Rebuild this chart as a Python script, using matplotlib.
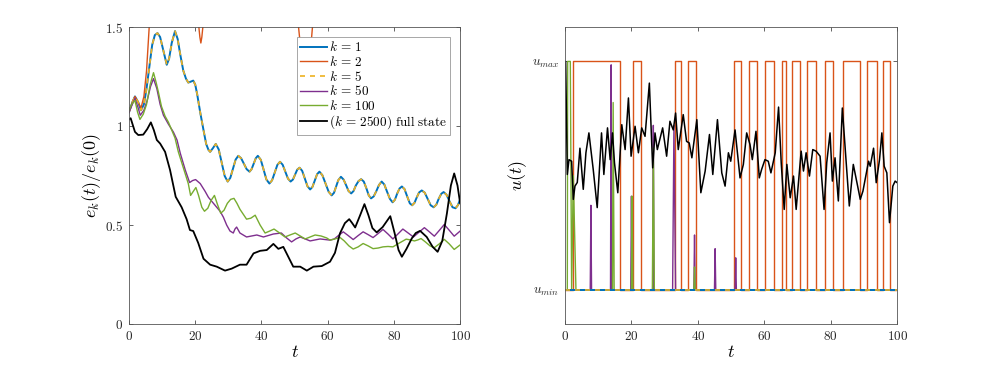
import matplotlib
matplotlib.use("Agg")
import matplotlib.pyplot as plt
from matplotlib.ticker import FuncFormatter

plt.rcParams.update({
    "font.family": "DejaVu Serif",
    "mathtext.fontset": "cm",
    "font.size": 9,
    "axes.linewidth": 0.6,
    "xtick.direction": "in",
    "ytick.direction": "in",
    "xtick.top": True,
    "ytick.right": True,
    "xtick.major.size": 3,
    "ytick.major.size": 3,
    "xtick.major.width": 0.5,
    "ytick.major.width": 0.5,
})

# MATLAB default colours
C_BLUE = "#0072BD"
C_ORANGE = "#D95319"
C_YELLOW = "#EDB120"
C_PURPLE = "#7E2F8E"
C_GREEN = "#77AC30"

# ---------------- left panel: e_k(t)/e_k(0) ----------------
# k = 1 and k = 5 coincide
t_k1 = [0, 1, 1.8, 2.8, 3.6, 4.5, 5.3, 6.3, 7.0, 7.8, 8.6, 9.4, 10.4, 11.4,
        12.1, 12.9, 13.9, 14.7, 15.5, 16.4, 17.2, 17.9, 18.7, 19.4, 20.0, 20.6,
        21.5, 22.5, 23.3, 24.0, 24.5, 25.4, 26.2, 27.1, 28.0, 28.9, 29.8, 30.6,
        31.4, 32.2, 33.0, 33.85, 34.7, 35.55, 36.4, 37.0, 37.65, 38.3, 38.9,
        39.8, 40.65, 41.5, 42.4, 43.2, 44.0, 44.8, 45.6, 46.4, 47.2, 48.0, 48.8,
        49.5, 50.15, 50.8, 51.5, 52.3, 53.1, 53.9, 54.7, 55.4, 56.1, 56.8, 57.5,
        58.4, 59.35, 60.3, 61.2, 61.9, 62.55, 63.2, 64.0, 64.8, 65.6, 66.3,
        67.1, 67.8, 68.5, 69.3, 70.1, 70.9, 71.7, 72.4, 73.1, 73.9, 74.7, 75.5,
        76.3, 77.1, 77.9, 78.8, 79.6, 80.3, 81.0, 81.7, 82.4, 83.2, 84.0, 84.8,
        85.5, 86.2, 86.9, 87.6, 88.4, 89.3, 90.2, 91.1, 92.0, 92.8, 93.5, 94.3,
        95.0, 95.9, 96.8, 97.7, 98.6, 99.3, 100]
e_k1 = [1.07, 1.12, 1.15, 1.12, 1.08, 1.11, 1.19, 1.32, 1.41, 1.46, 1.47, 1.45,
        1.38, 1.31, 1.34, 1.42, 1.48, 1.44, 1.36, 1.28, 1.24, 1.22, 1.225, 1.23,
        1.21, 1.16, 1.07, 0.98, 0.91, 0.88, 0.87, 0.89, 0.91, 0.882, 0.815,
        0.748, 0.72, 0.739, 0.785, 0.831, 0.85, 0.838, 0.81, 0.782, 0.77, 0.782,
        0.81, 0.838, 0.85, 0.83, 0.78, 0.73, 0.71, 0.726, 0.765, 0.804, 0.82,
        0.805, 0.77, 0.735, 0.72, 0.73, 0.755, 0.78, 0.79, 0.774, 0.735, 0.696,
        0.68, 0.693, 0.725, 0.757, 0.77, 0.752, 0.71, 0.668, 0.65, 0.663, 0.695,
        0.727, 0.744, 0.73, 0.70, 0.672, 0.66, 0.672, 0.70, 0.722, 0.732, 0.72,
        0.685, 0.65, 0.635, 0.645, 0.672, 0.703, 0.72, 0.705, 0.67, 0.632,
        0.615, 0.628, 0.66, 0.685, 0.695, 0.682, 0.645, 0.61, 0.60, 0.612, 0.64,
        0.665, 0.675, 0.664, 0.632, 0.60, 0.59, 0.603, 0.632, 0.658, 0.667,
        0.653, 0.62, 0.59, 0.585, 0.60, 0.63]

t_k2 = [0, 1, 1.8, 2.8, 3.6, 4.5, 5.3, 6.1, 8, 12, 16, 19, 20.5, 21.1, 21.4,
        21.7, 22.0, 22.3, 22.8, 25, 35, 45, 50.6, 51.2, 51.8, 52.4, 53.0, 53.8,
        54.5, 55.0, 55.4, 56.0, 60, 80, 100]
e_k2 = [1.07, 1.12, 1.15, 1.12, 1.09, 1.15, 1.28, 1.50, 1.80, 1.90, 1.85, 1.70,
        1.56, 1.50, 1.45, 1.42, 1.45, 1.50, 1.58, 1.80, 1.90, 1.80, 1.62, 1.50,
        1.40, 1.33, 1.31, 1.31, 1.34, 1.42, 1.50, 1.62, 1.85, 1.90, 1.90]

t_k50 = [0, 1, 1.8, 2.8, 3.4, 4.5, 5.5, 6.5, 7.4, 8.4, 9.4, 10.4, 11.9, 13.4,
         14.5, 15.5, 17.0, 18.3, 19.2, 20.1, 21.5, 23.0, 24.0, 25.5, 26.5,
         27.5, 28.5, 29.5, 30.5, 31.5, 32.0, 32.5, 33.0, 33.5, 35.5, 38.6, 40.6,
         43.6, 46.0, 47.6, 49.1, 50.4, 51.7, 53.2, 54.7, 56.2, 57.7, 60.7, 62.0,
         63.3, 64.7, 66.2, 67.7, 69.2, 70.7, 72.2, 73.7, 75.2, 76.7, 78.2, 79.7,
         81.2, 82.7, 84.3, 85.9, 87.5, 89.2, 90.7, 92.2, 93.7, 95.2, 96.7, 98.2,
         100]
e_k50 = [1.07, 1.11, 1.14, 1.09, 1.055, 1.08, 1.13, 1.20, 1.24, 1.19, 1.11,
         1.055, 1.01, 0.97, 0.93, 0.862, 0.778, 0.715, 0.725, 0.73, 0.71, 0.67,
         0.64, 0.61, 0.59, 0.57, 0.54, 0.50, 0.47, 0.46, 0.48, 0.49, 0.475, 0.46,
         0.44, 0.45, 0.44, 0.455, 0.46, 0.435, 0.415, 0.43, 0.44, 0.43, 0.42,
         0.425, 0.43, 0.424, 0.43, 0.448, 0.466, 0.447, 0.427, 0.447, 0.466,
         0.452, 0.437, 0.457, 0.478, 0.455, 0.43, 0.455, 0.48, 0.46, 0.44, 0.463,
         0.487, 0.466, 0.444, 0.473, 0.503, 0.474, 0.444, 0.47]

t_k100 = [0, 0.8, 1.8, 2.6, 3.3, 4.3, 5.3, 6.4, 7.4, 8.2, 8.9, 9.8, 10.9, 11.9,
          12.9, 13.9, 14.9, 16.4, 17.9, 18.6, 19.4, 20.2, 21.0, 22.0, 22.8,
          23.8, 24.8, 25.8, 26.7, 27.7, 28.7, 29.7, 30.7, 31.7, 32.6, 33.5,
          35.5, 36.8, 38.1, 39.6, 41.1, 42.5, 43.8, 45.5, 47.1, 48.6, 50.2, 51.7,
          53.2, 54.7, 56.2, 58.0, 59.7, 60.7, 62.2, 63.7, 65.0, 66.4, 67.7,
          69.2, 70.7, 72.2, 73.7, 75.2, 76.7, 78.2, 79.7, 81.7, 83.7, 85.0, 86.2,
          87.2, 88.2, 89.5, 90.9, 92.2, 93.7, 95.2, 96.7, 98.2, 100]
e_k100 = [1.08, 1.11, 1.13, 1.07, 1.034, 1.06, 1.11, 1.21, 1.27, 1.22, 1.17,
          1.10, 1.05, 1.02, 0.98, 0.94, 0.87, 0.79, 0.71, 0.65, 0.67, 0.69, 0.65,
          0.59, 0.57, 0.585, 0.625, 0.65, 0.605, 0.56, 0.575, 0.61, 0.63, 0.635,
          0.61, 0.58, 0.53, 0.535, 0.55, 0.50, 0.46, 0.47, 0.48, 0.46, 0.44,
          0.45, 0.46, 0.445, 0.43, 0.44, 0.45, 0.445, 0.435, 0.424, 0.43, 0.438,
          0.42, 0.395, 0.379, 0.39, 0.407, 0.395, 0.381, 0.384, 0.39, 0.392,
          0.39, 0.41, 0.429, 0.425, 0.42, 0.425, 0.432, 0.415, 0.395, 0.386,
          0.405, 0.428, 0.405, 0.377, 0.40]

t_full = [0, 0.5, 1.8, 2.8, 4.3, 5.5, 6.6, 7.5, 8.4, 9.4, 10.9, 12.4, 14.1,
          15.9, 17.4, 18.4, 19.4, 20.9, 22.5, 24.5, 26.5, 29.0, 31.0, 33.5, 35.5,
          37.6, 39.6, 41.6, 43.6, 45.1, 46.6, 48.1, 49.6, 51.7, 53.7, 55.7, 58.2,
          60.7, 62.2, 63.7, 65.2, 66.5, 67.4, 68.3, 69.8, 71.1, 72.3, 73.5, 74.8,
          76.6, 78.9, 80.2, 81.4, 82.4, 83.8, 85.4, 86.6, 87.9, 89.9, 91.7, 93.2,
          94.6, 96.0, 97.2, 98.2, 99.2, 100]
e_full = [1.034, 1.04, 0.971, 0.955, 0.957, 0.985, 1.019, 0.98, 0.93, 0.912,
          0.87, 0.778, 0.643, 0.59, 0.53, 0.475, 0.47, 0.41, 0.33, 0.30, 0.29,
          0.27, 0.28, 0.30, 0.30, 0.357, 0.37, 0.374, 0.405, 0.38, 0.39, 0.34,
          0.29, 0.29, 0.27, 0.29, 0.293, 0.315, 0.36, 0.458, 0.51, 0.53, 0.51,
          0.488, 0.55, 0.606, 0.55, 0.485, 0.463, 0.49, 0.545, 0.46, 0.374, 0.34,
          0.38, 0.433, 0.46, 0.471, 0.44, 0.39, 0.365, 0.42, 0.559, 0.70, 0.761,
          0.70, 0.61]

# ---------------- right panel: u(t) ----------------
# k = 2: bang-bang switching times (steps-post)
t_u2 = [0, 2.5, 16.6, 20.4, 22.8, 33.2, 34.8, 37.1, 39.4, 50.8, 53.1, 55.4,
        57.7, 60.1, 62.8, 65.2, 66.6, 68.3, 70.8, 73.0, 75.6, 78.3, 80.8, 83.6,
        88.9, 90.9, 93.8, 95.6, 98.0, 100]
u_u2 = [0, 1, 0, 1, 0, 1, 0, 1, 0, 1, 0, 1, 0, 1, 0, 1, 0, 1, 0, 1, 0, 1, 0, 1,
        0, 1, 0, 1, 0, 0]

t_u50 = [0, 7.6, 7.8, 8.0, 13.7, 13.9, 14.1, 19.8, 20.0, 20.2, 26.4, 26.6, 26.8,
         32.4, 32.8, 33.3, 38.8, 39.0, 39.2, 45.0, 45.2, 45.4, 51.2, 51.4, 51.6,
         100]
u_u50 = [0, 0, 0.37, 0, 0, 0.985, 0, 0, 0.41, 0, 0, 0.72, 0, 0, 0.72, 0, 0,
         0.24, 0, 0, 0.18, 0, 0, 0.14, 0, 0]

t_u100 = [0, 0.7, 0.8, 1.6, 2.0, 2.5, 3.3, 14.3, 14.5, 14.8, 20.0, 20.2, 20.4,
          26.3, 26.6, 26.9, 38.8, 39.0, 39.2, 100]
u_u100 = [0, 0, 1, 1, 0, 0.5, 0, 0, 0.82, 0, 0, 0.41, 0, 0, 0.62, 0, 0, 0.10,
          0, 0]

t_u1 = [0, 100]
u_u1 = [0, 0]

t_ufull = [0, 0.2, 0.7, 1.2, 2.0, 2.5, 3.0, 3.7, 4.5, 5.5, 6.3, 7.2, 8.5, 9.7,
           11.0, 11.7, 12.8, 13.6, 14.3, 14.9, 15.9, 17.1, 18.1, 19.1, 19.9,
           21.1, 22.1, 23.1, 24.1, 25.4, 26.4, 27.1, 27.8, 29.4, 30.6, 31.6,
           32.6, 33.3, 34.1, 35.6, 36.6, 37.4, 38.2, 39.7, 40.9, 42.2, 43.5,
           44.5, 45.9, 47.2, 48.2, 49.2, 49.9, 51.2, 52.7, 53.7, 54.7, 55.7,
           56.4, 57.5, 58.5, 59.2, 60.2, 61.2, 62.0, 63.3, 64.3, 65.1, 66.0,
           66.8, 67.8, 68.8, 69.6, 71.1, 71.8, 72.6, 73.6, 74.6, 75.6, 76.8,
           78.0, 78.8, 79.8, 80.5, 81.3, 82.3, 83.5, 84.6, 85.6, 86.8, 87.9,
           88.9, 89.7, 91.4, 91.9, 92.9, 93.7, 94.7, 95.4, 96.1, 96.9, 97.7,
           98.7, 99.4, 100]
u_ufull = [1.0, 1.0, 0.505, 0.57, 0.563, 0.396, 0.454, 0.47, 0.62, 0.44, 0.60,
           0.687, 0.527, 0.36, 0.687, 0.505, 0.709, 0.57, 0.687, 0.556, 0.425,
           0.723, 0.614, 0.84, 0.585, 0.716, 0.60, 0.709, 0.672, 0.905, 0.534,
           0.687, 0.614, 0.709, 0.585, 0.738, 0.70, 0.774, 0.614, 0.767, 0.65,
           0.643, 0.578, 0.745, 0.425, 0.52, 0.68, 0.505, 0.745, 0.512, 0.454,
           0.60, 0.563, 0.70, 0.49, 0.549, 0.687, 0.636, 0.57, 0.694, 0.49,
           0.527, 0.57, 0.563, 0.512, 0.60, 0.80, 0.556, 0.352, 0.549, 0.403,
           0.498, 0.352, 0.607, 0.52, 0.60, 0.498, 0.614, 0.607, 0.585, 0.352,
           0.556, 0.687, 0.476, 0.578, 0.389, 0.796, 0.57, 0.367, 0.549, 0.469,
           0.396, 0.432, 0.563, 0.541, 0.62, 0.469, 0.57, 0.687, 0.541, 0.512,
           0.294, 0.454, 0.476, 0.469]

x_ticks = [0, 20, 40, 60, 80, 100]
e_ticks = [0, 0.5, 1, 1.5]
e_ticklabels = ["0", "0.5", "1", "1.5"]
u_ticks = [0, 1]
u_ticklabels = [r"$u_{min}$", r"$u_{max}$"]

legend_labels = [r"$k\,=\,1$", r"$k\,=\,2$", r"$k\,=\,5$", r"$k\,=\,50$",
                 r"$k\,=\,100$", r"$(k\,=\,2500)\ \mathrm{full\ state}$"]

fig = plt.figure(figsize=(9.9, 3.67), dpi=100)
ax1 = fig.add_axes([0.1303, 0.117, 0.3345, 0.809])
ax2 = fig.add_axes([0.5707, 0.117, 0.3355, 0.809])

math_fmt = FuncFormatter(lambda v, p: f"${v:g}$")

# left
ax1.plot(t_k1, e_k1, color=C_BLUE, lw=1.4, label=legend_labels[0])
ax1.plot(t_k2, e_k2, color=C_ORANGE, lw=1.0, label=legend_labels[1])
ax1.plot(t_k1, e_k1, color=C_YELLOW, lw=1.2, ls=(0, (3, 3)), label=legend_labels[2])
ax1.plot(t_k50, e_k50, color=C_PURPLE, lw=1.0, label=legend_labels[3])
ax1.plot(t_k100, e_k100, color=C_GREEN, lw=1.0, label=legend_labels[4])
ax1.plot(t_full, e_full, color="black", lw=1.3, label=legend_labels[5])
ax1.set_xlim(0, 100)
ax1.set_ylim(0, 1.5)
ax1.set_xticks(x_ticks)
ax1.set_yticks(e_ticks)
ax1.set_yticklabels([f"${s}$" for s in e_ticklabels])
ax1.xaxis.set_major_formatter(math_fmt)
ax1.set_xlabel(r"$t$", fontsize=13, labelpad=0)
ax1.set_ylabel(r"$e_k(t)/e_k(0)$", fontsize=13, labelpad=2)
leg = ax1.legend(loc="upper right", fontsize=9.5, handlelength=2.0,
                 handletextpad=0.15, labelspacing=0.05, borderpad=0.25,
                 borderaxespad=0.75, fancybox=False, framealpha=1)
leg.get_frame().set_edgecolor("#999999")
leg.get_frame().set_linewidth(0.6)

# right
ax2.plot(t_u2, u_u2, color=C_ORANGE, lw=1.0, drawstyle="steps-post")
ax2.plot(t_u50, u_u50, color=C_PURPLE, lw=1.0)
ax2.plot(t_u100, u_u100, color=C_GREEN, lw=1.0)
ax2.plot(t_ufull, u_ufull, color="black", lw=1.1)
ax2.plot(t_u1, u_u1, color=C_BLUE, lw=1.4)
ax2.plot(t_u1, u_u1, color=C_YELLOW, lw=1.2, ls=(0, (3, 3)))
ax2.set_xlim(0, 100)
ax2.set_ylim(-0.15, 1.15)
ax2.set_xticks(x_ticks)
ax2.set_yticks(u_ticks)
ax2.set_yticklabels(u_ticklabels)
ax2.xaxis.set_major_formatter(math_fmt)
ax2.set_xlabel(r"$t$", fontsize=13, labelpad=0)
ax2.set_ylabel(r"$u(t)$", fontsize=13, labelpad=2)

for ax in (ax1, ax2):
    for s in ax.spines.values():
        s.set_color("#555555")
    ax.tick_params(colors="#262626", labelsize=9.5, pad=4)

fig.savefig("out.png", dpi=100)
